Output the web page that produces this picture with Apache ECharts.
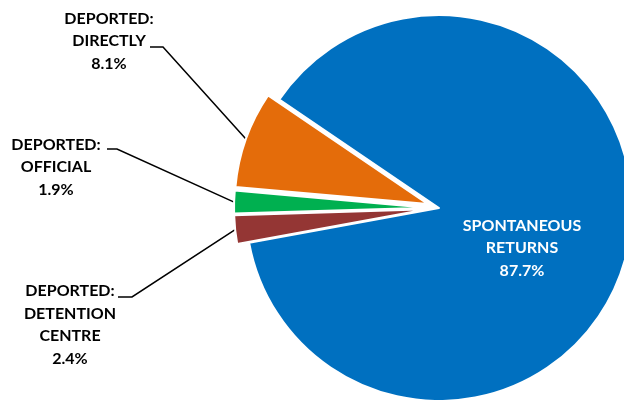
<!DOCTYPE html>
<html><head><meta charset="utf-8">
<script src="https://cdn.jsdelivr.net/npm/echarts@6/dist/echarts.min.js"></script>
<style>html,body{margin:0;padding:0;background:#fff}#c{width:624px;height:400px}</style>
</head><body><div id="c"></div>
<script>
const categories = ['SPONTANEOUS\nRETURNS', 'DEPORTED:\nDETENTION\nCENTRE', 'DEPORTED:\nOFFICIAL', 'DEPORTED:\nDIRECTLY'];
const values = [87.7, 2.4, 1.9, 8.1];
const exploded = [false, true, true, true];
const colors = ['#0070C0', '#943634', '#00B050', '#E46C0A'];
// label placement (style): [centerX, centerY, lineEndX, lineEndY, bendX]
const labelPlace = [
  [522, 248],
  [70, 325, 118, 297, 132],
  [56, 167, 107, 149, 117],
  [109, 41, 150, 47, 163]
];

const CENTER = [439, 208];
const RADIUS = 193;
const START = 145.8;
const EXPLODE = 12;

const chart = echarts.init(document.getElementById('c'), null, {renderer: 'canvas'});

const sliceData = categories.map((name, i) => ({
  name: name, value: values[i], selected: exploded[i],
  itemStyle: {color: colors[i]}
}));
const labelData = categories.map((name, i) => ({
  name: name, value: values[i],
  label: i === 0 ? {position: 'inside', color: '#ffffff'} : {position: 'outside', color: '#000000'},
  labelLine: {show: i !== 0}
}));

chart.setOption({
  animation: false,
  series: [{
    type: 'pie',
    center: CENTER,
    radius: RADIUS,
    startAngle: START,
    clockwise: true,
    selectedMode: 'multiple',
    selectedOffset: EXPLODE,
    silent: true,
    itemStyle: {borderColor: '#ffffff', borderWidth: 2},
    emphasis: {disabled: true},
    label: {show: false},
    labelLine: {show: false},
    data: sliceData
  }, {
    type: 'pie',
    center: CENTER,
    radius: RADIUS,
    startAngle: START,
    clockwise: true,
    selectedMode: false,
    silent: true,
    avoidLabelOverlap: false,
    itemStyle: {color: 'rgba(0,0,0,0)', borderWidth: 0},
    emphasis: {disabled: true},
    label: {
      show: true,
      fontFamily: 'Lato',
      fontWeight: 'bold',
      fontSize: 16,
      lineHeight: 22.5,
      align: 'center',
      formatter: p => p.name + '\n' + p.value.toFixed(1) + '%'
    },
    labelLine: {show: true, lineStyle: {color: '#000000', width: 1.5}},
    labelLayout: function (params) {
      const i = params.dataIndex;
      const p = labelPlace[i];
      const res = {x: p[0], y: p[1], align: 'center', verticalAlign: 'middle'};
      if (p.length > 2 && params.labelLinePoints) {
        const e = params.labelLinePoints[0];
        const vx = e[0] - CENTER[0], vy = e[1] - CENTER[1];
        const len = Math.sqrt(vx * vx + vy * vy) || 1;
        const off = exploded[i] ? EXPLODE : 0;
        const edge = [e[0] + vx / len * off, e[1] + vy / len * off];
        res.labelLinePoints = [edge, [p[4], p[3]], [p[2], p[3]]];
      }
      return res;
    },
    data: labelData
  }]
});
</script>
</body></html>
